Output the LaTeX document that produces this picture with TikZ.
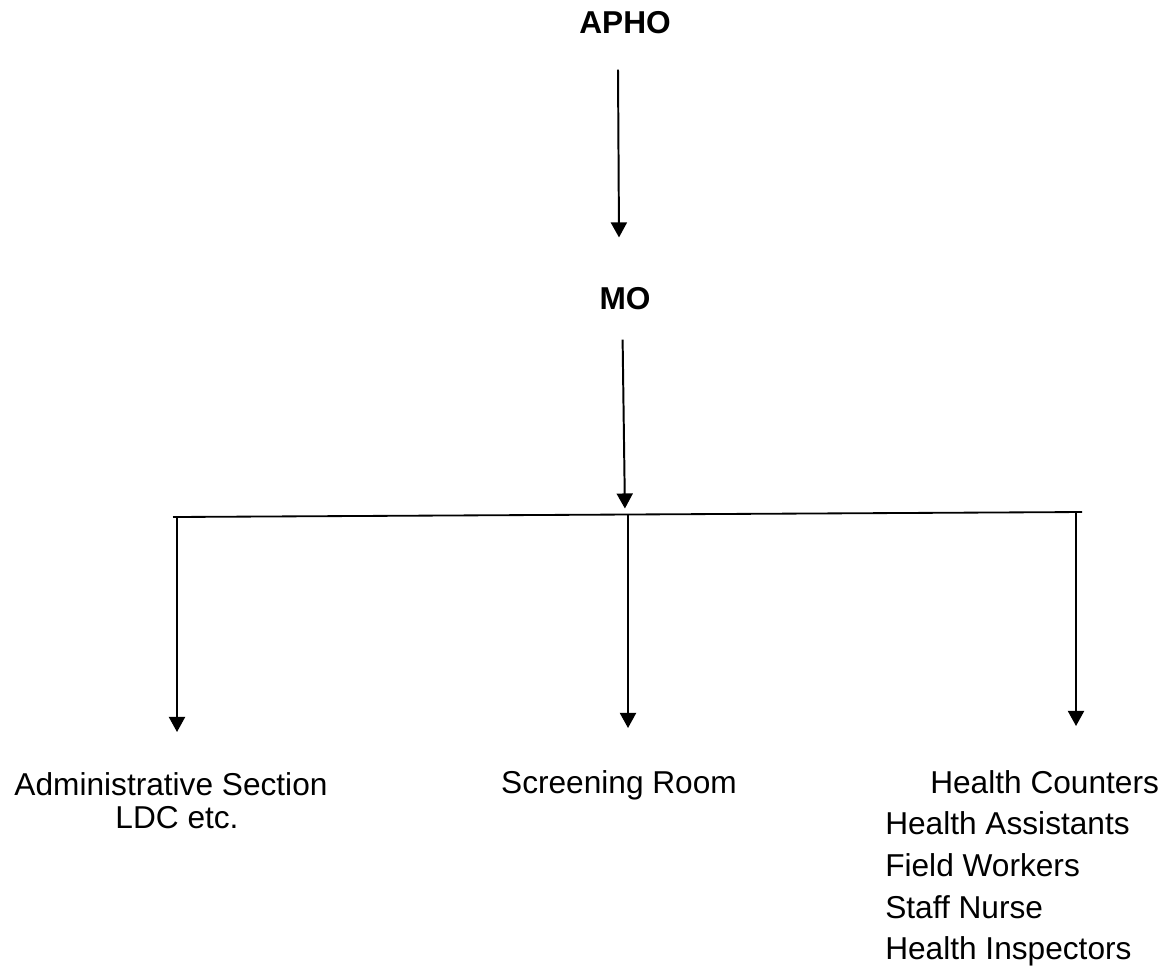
\documentclass[tikz,border=0pt]{standalone}
\usepackage{fontspec}
\setmainfont{Liberation Sans}
\usetikzlibrary{arrows.meta}

\begin{document}
\begin{tikzpicture}[
  x=0.025cm, y=-0.025cm,
  head/.style={inner sep=0pt, anchor=base, font=\fontsize{22.5}{27}\selectfont\bfseries},
  unit/.style={inner sep=0pt, font=\fontsize{22.5}{23.5}\selectfont},
  arrow/.style={-{Triangle[width=11.4pt,length=10.7pt]}, line width=1.4pt},
  bus/.style={line width=1.3pt}
]
  \useasboundingbox (0,0) rectangle (1168,976);

  \node[head] (apho) at (625,33) {APHO};
  \node[head] (mo) at (625,309) {MO};
  \node[unit, anchor=north, align=center] (admin) at (171,772) {Administrative Section\\\hspace*{0.3cm}LDC etc.};
  \node[unit, anchor=north] (screen) at (619,770) {Screening Room};
  \node[unit, anchor=north west, align=left, font=\fontsize{22.5}{29.6}\selectfont] (health) at (885,770)
    {\hspace*{1.125cm}Health Counters\\Health Assistants\\Field Workers\\Staff Nurse\\Health Inspectors};

  % branch line
  \coordinate (busL) at (173,517);
  \coordinate (busR) at (1082,512);
  \coordinate (busM) at (625,514.5);
  \coordinate (b1) at (177,517);
  \coordinate (b2) at (628,514.5);
  \coordinate (b3) at (1076,512);

  \draw[arrow] ([xshift=-0.175cm,yshift=-0.9cm]apho.south) -- ([xshift=-0.15cm,yshift=1.23cm]mo.north);
  \draw[arrow, shorten >=0.15cm] ([xshift=-0.06cm,yshift=-0.75cm]mo.south) -- (busM);
  \draw[bus] (busL) -- (busR);
  \draw[arrow, shorten >=1cm] (b1) -- (b1 |- admin.north);
  \draw[arrow, shorten >=1.05cm] (b2) -- (b2 |- screen.north);
  \draw[arrow, shorten >=1.1cm] (b3) -- (b3 |- health.north);
\end{tikzpicture}
\end{document}
